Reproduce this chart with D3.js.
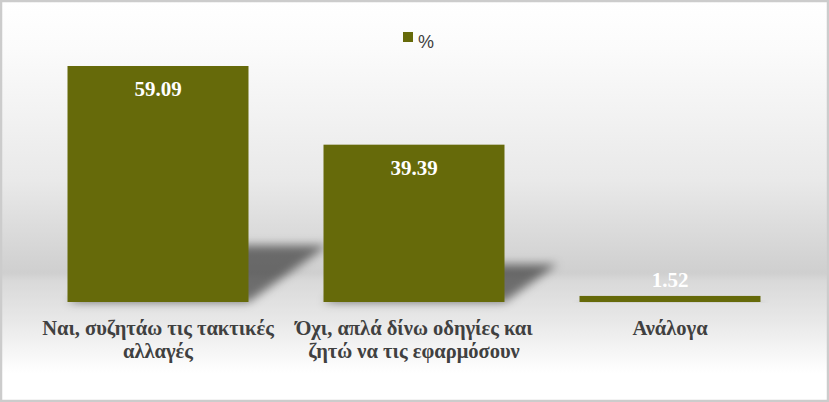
<!DOCTYPE html>
<html>
<head>
<meta charset="utf-8">
<script src="https://cdn.jsdelivr.net/npm/d3@7"></script>
<style>
  html, body { margin: 0; padding: 0; background: #fff; }
  svg { display: block; }
</style>
</head>
<body>
<svg id="chart"></svg>
<script>
const categories = ["Ναι, συζητάω τις τακτικές αλλαγές", "Όχι, απλά δίνω οδηγίες και ζητώ να  τις εφαρμόσουν", "Ανάλογα"];
const values = [59.09, 39.39, 1.52];
const seriesName = "%";

const W = 829, H = 402;
const barColor = "#666a0a";

const svg = d3.select("#chart")
  .attr("width", W)
  .attr("height", H);

const defs = svg.append("defs");

// background gradient (white -> grey -> white)
const grad = defs.append("linearGradient")
  .attr("id", "bg")
  .attr("x1", 0).attr("y1", 0).attr("x2", 0).attr("y2", 1);
[[0, "#ffffff"], [0.12, "#fbfbfb"], [0.45, "#e9e9e9"], [0.68, "#cfcfcf"], [0.7, "#d9d9d9"], [0.8, "#e8e8e8"], [0.93, "#ffffff"], [1, "#ffffff"]]
  .forEach(s => grad.append("stop").attr("offset", s[0]).attr("stop-color", s[1]));

defs.append("filter")
  .attr("id", "blur")
  .attr("x", "-30%").attr("y", "-30%").attr("width", "160%").attr("height", "160%")
  .append("feGaussianBlur")
  .attr("stdDeviation", 5);

svg.append("rect")
  .attr("x", 1).attr("y", 1)
  .attr("width", W - 2).attr("height", H - 2)
  .attr("fill", "url(#bg)")
  .attr("stroke", "#cccccc")
  .attr("stroke-width", 2.5);

const x = d3.scaleBand()
  .domain(categories)
  .range([30, 798])
  .paddingInner(0.293)
  .paddingOuter(0.1465);

const y = d3.scaleLinear()
  .domain([0, 70])
  .range([302, 302 - 70 * 3.994]);

// perspective shadows
const shadowScale = 0.24, shadowSkew = 1.4;
svg.append("g")
  .selectAll("path")
  .data(values)
  .enter()
  .append("path")
  .attr("d", (d, i) => {
    const x0 = x(categories[i]), x1 = x0 + x.bandwidth();
    const yb = y(0);
    const h = (y(0) - y(d)) * shadowScale;
    const dx = h * shadowSkew;
    return `M${x0},${yb}L${x1},${yb}L${x1 + dx},${yb - h}L${x0 + dx},${yb - h}Z`;
  })
  .attr("fill", "#000")
  .attr("fill-opacity", 0.5)
  .attr("filter", "url(#blur)");

// bars
svg.append("g")
  .selectAll("rect")
  .data(values)
  .enter()
  .append("rect")
  .attr("x", (d, i) => x(categories[i]))
  .attr("y", d => y(d))
  .attr("width", x.bandwidth())
  .attr("height", d => y(0) - y(d))
  .attr("fill", barColor);

// value labels
svg.append("g")
  .selectAll("text")
  .data(values)
  .enter()
  .append("text")
  .attr("x", (d, i) => x(categories[i]) + x.bandwidth() / 2)
  .attr("y", d => (y(0) - y(d)) > 40 ? y(d) + 30 : y(d) - 9)
  .attr("text-anchor", "middle")
  .attr("font-family", "'Liberation Serif', 'Times New Roman', serif")
  .attr("font-weight", "bold")
  .attr("font-size", 21)
  .attr("fill", "#ffffff")
  .text(d => d.toFixed(2));

// category labels with wrapping
const xAxis = svg.append("g");
const labels = xAxis.selectAll("text")
  .data(categories)
  .enter()
  .append("text")
  .attr("x", d => x(d) + x.bandwidth() / 2)
  .attr("y", 335)
  .attr("text-anchor", "middle")
  .attr("font-family", "'Liberation Serif', 'Times New Roman', serif")
  .attr("font-weight", "bold")
  .attr("font-size", 20.5)
  .attr("fill", "#404040");

labels.each(function(d) {
  const text = d3.select(this);
  const cx = +text.attr("x");
  const words = d.split(" ");
  const maxW = x.step() - 2;
  let line = [];
  let tspan = text.append("tspan").attr("x", cx).attr("dy", 0);
  words.forEach(w => {
    line.push(w);
    tspan.text(line.join(" "));
    if (tspan.node().getComputedTextLength() > maxW && line.length > 1) {
      line.pop();
      tspan.text(line.join(" "));
      line = [w];
      tspan = text.append("tspan").attr("x", cx).attr("dy", 23).text(w);
    }
  });
});

// legend
const legend = svg.append("g")
  .attr("transform", "translate(403, 32)");
legend.append("rect")
  .attr("width", 10)
  .attr("height", 10)
  .attr("fill", barColor);
legend.append("text")
  .attr("x", 15)
  .attr("y", 16)
  .attr("font-family", "'Liberation Sans', Arial, sans-serif")
  .attr("font-size", 18)
  .attr("fill", "#404040")
  .text(seriesName);
</script>
</body>
</html>
